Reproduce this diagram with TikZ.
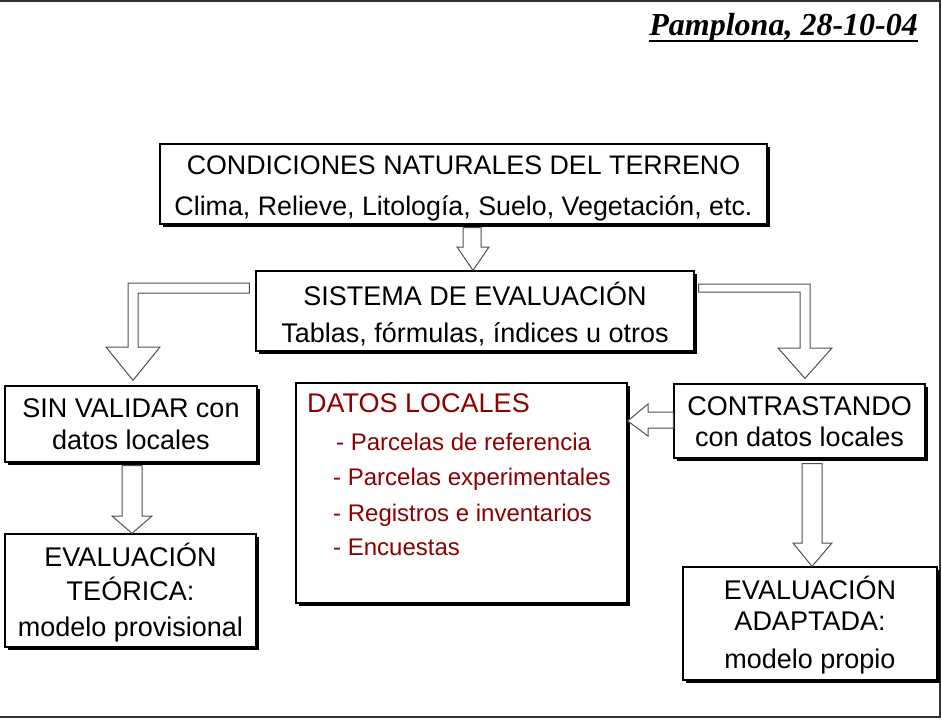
\documentclass[tikz,border=0pt]{standalone}
\usepackage{fontspec}
\setmainfont{Liberation Sans}
\newfontfamily\titlefont{Liberation Serif}
\usetikzlibrary{shadows,calc}
\definecolor{datared}{RGB}{140,0,0}
\definecolor{arrowgray}{RGB}{80,80,80}
\begin{document}
\begin{tikzpicture}[x=1pt,y=-1pt,
  box/.style={draw=black,line width=1.3pt,fill=white,inner sep=0pt,
    drop shadow={shadow xshift=3pt,shadow yshift=-3pt,fill=black,opacity=1}},
  boxtext/.style={inner sep=0pt,align=center},
  barrow/.style={draw=arrowgray,fill=white,line width=1pt,line join=miter},
  itemtext/.style={anchor=base west,inner sep=0pt,text=datared,font=\fontsize{24}{28}\selectfont}]
\useasboundingbox (0,0) rectangle (942,720);
% frame
\draw[line width=2pt,draw=black!80] (0,1) -- (940,1) -- (940,717) -- (0,717);
% title
\node[anchor=base east,inner sep=0pt,font=\titlefont\bfseries\itshape\fontsize{32}{36}\selectfont] (title) at (918,35) {Pamplona, 28-10-04};
\draw[line width=2.2pt] ($(title.base west)+(0,6)$) -- ($(title.base east)+(0,6)$);
% boxes
\node[box,minimum width=607pt,minimum height=80pt] (cond) at (463.5,184) {};
\node[boxtext,font=\fontsize{26.8}{41}\selectfont] (condt) at ($(cond.center)+(0,4)$)
  {CONDICIONES NATURALES DEL TERRENO\\Clima, Relieve, Litología, Suelo, Vegetación, etc.};
\node[box,minimum width=438pt,minimum height=80pt] (sis) at (475,311) {};
\node[boxtext,font=\fontsize{27}{37}\selectfont] (sist) at ($(sis.center)+(0,3)$)
  {SISTEMA DE EVALUACIÓN\\Tablas, fórmulas, índices u otros};
\node[box,minimum width=252pt,minimum height=76pt] (sinv) at (131,424) {};
\node[boxtext,font=\fontsize{27}{32}\selectfont] (sinvt) at ($(sinv.center)+(0,0.5)$)
  {SIN VALIDAR con\\datos locales};
\node[box,minimum width=251pt,minimum height=113pt] (teor) at (130.5,590.5) {};
\node[boxtext,font=\fontsize{27}{34}\selectfont] (teort) at ($(teor.center)+(0,2.5)$)
  {EVALUACIÓN\\TEÓRICA:\\[2pt]modelo provisional};
\node[box,minimum width=331pt,minimum height=220pt] (datos) at (461.5,493) {};
\node[box,minimum width=251pt,minimum height=74pt] (contr) at (799.5,421) {};
\node[boxtext,font=\fontsize{27}{31}\selectfont] (contrt) at ($(contr.center)+(0,1)$)
  {CONTRASTANDO\\con datos locales};
\node[box,minimum width=254pt,minimum height=113pt] (adap) at (810,623.5) {};
\node[boxtext,font=\fontsize{27}{31}\selectfont] (adapt) at ($(adap.center)+(0,2)$)
  {EVALUACIÓN\\ADAPTADA:\\[7pt]modelo propio};
% datos locales text
\node[anchor=base west,inner sep=0pt,text=datared,font=\fontsize{27}{30}\selectfont] (dtitle) at (307,412.5) {DATOS LOCALES};
\node[itemtext] (d1) at (336,450.5) {- Parcelas de referencia};
\node[itemtext] (d2) at (333,485.5) {- Parcelas experimentales};
\node[itemtext] (d3) at (333,521.5) {- Registros e inventarios};
\node[itemtext] (d4) at (333,555.5) {- Encuestas};
% block arrows
\draw[barrow] ($(cond.south)+(-0.5,3)$) -- (463,247) -- (457,247) -- ($(sis.north)+(-2,0)$)
  -- (489,247) -- (481,247) -- ($(cond.south)+(17.5,3)$) -- cycle;
\draw[barrow] ($(sis.west)+(-6,-28)$) -- (128,283) -- (128,347) -- (106,347) -- ($(sinv.north)+(2,-5)$)
  -- (160,347) -- (138,347) -- (138,293) -- ($(sis.west)+(-6,-18)$) -- cycle;
\draw[barrow] ($(sis.east)+(4,-27)$) -- (810,284) -- (810,348) -- (832,348) -- ($(contr.north)+(5.5,-5)$)
  -- (778,348) -- (800,348) -- (800,292) -- ($(sis.east)+(4,-19)$) -- cycle;
\draw[barrow] ($(sinv.south)+(-9,3)$) -- (122,516) -- (112,516) -- ($(teor.north)+(1.5,0)$)
  -- (152,516) -- (142,516) -- ($(sinv.south)+(11,3)$) -- cycle;
\draw[barrow] ($(contr.south)+(2.5,5)$) -- (802,543) -- (793,543) -- ($(adap.north)+(2,0)$)
  -- (832,543) -- (822,543) -- ($(contr.south)+(22.5,5)$) -- cycle;
\draw[barrow] ($(contr.west)+(0,-9)$) -- (648,412) -- (648,404) -- (datos.east |- contr.west)
  -- (648,436) -- (648,428) -- ($(contr.west)+(0,7)$) -- cycle;
\end{tikzpicture}
\end{document}
